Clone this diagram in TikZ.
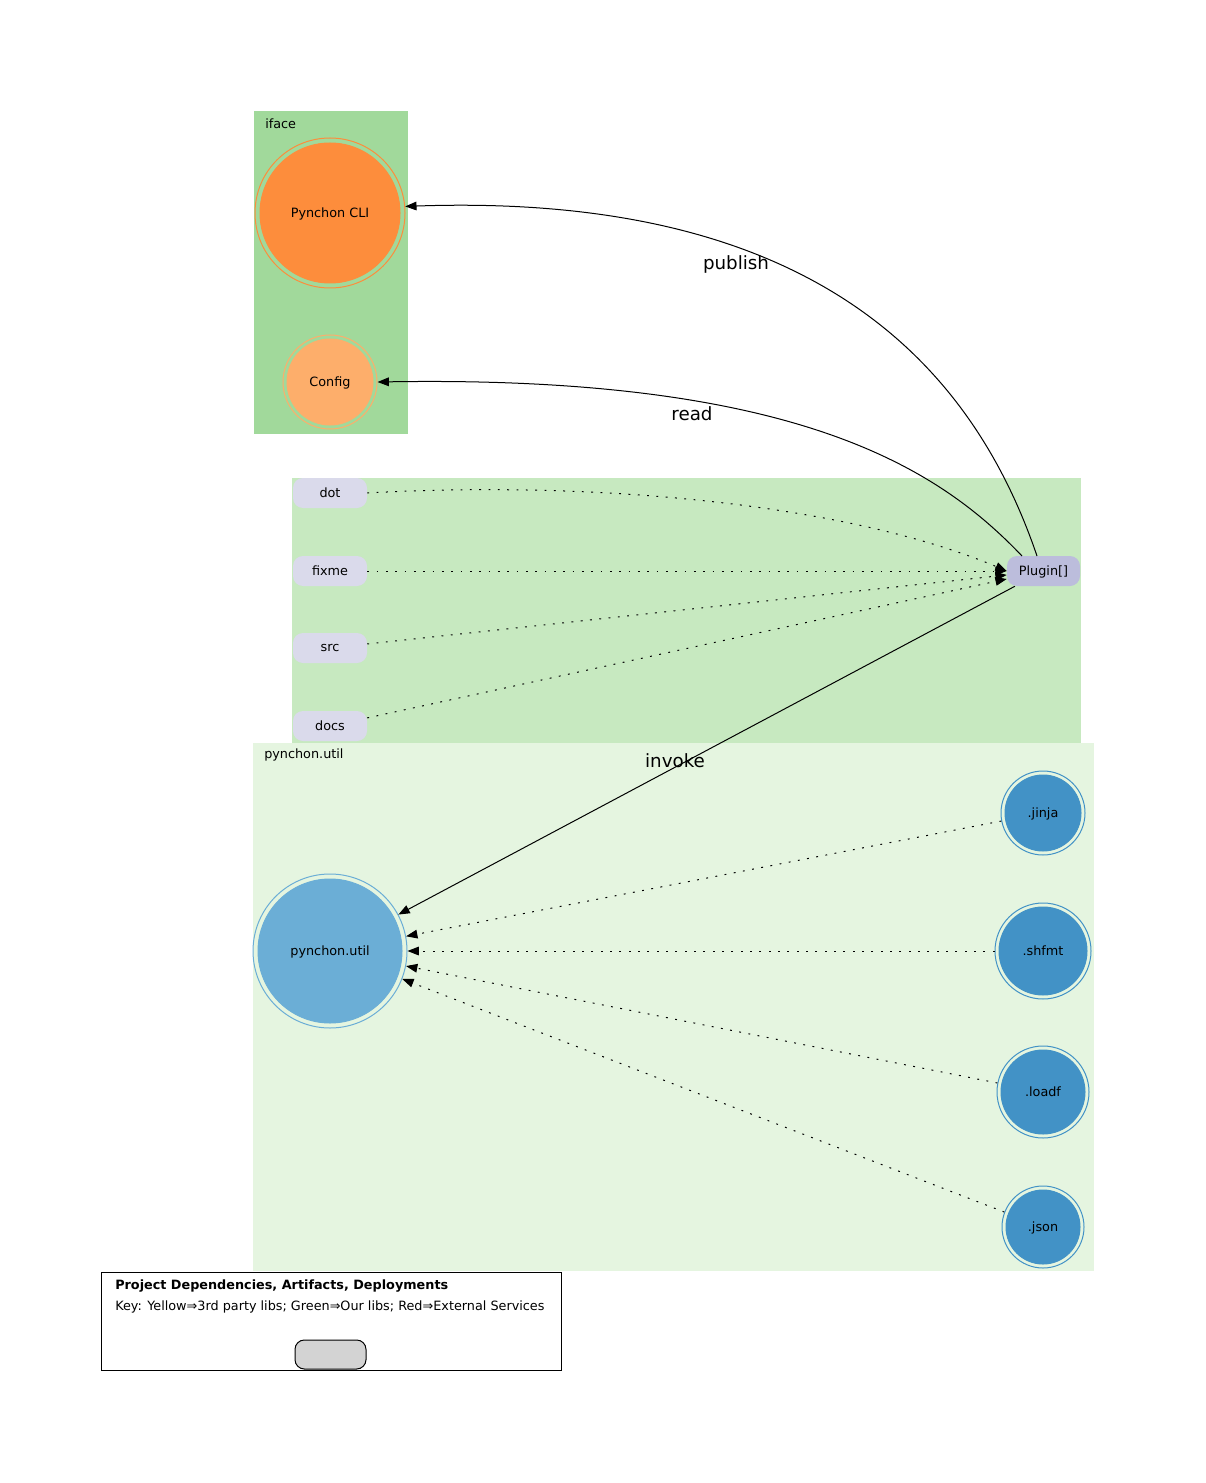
\documentclass[tikz,border=0pt]{standalone}
\usepackage{fontspec}
\setmainfont{DejaVu Sans}
\usetikzlibrary{arrows.meta}
\definecolor{cIface}{HTML}{A1D99B}
\definecolor{cMid}{HTML}{C7E9C0}
\definecolor{cUtil}{HTML}{E5F5E0}
\definecolor{cCli}{HTML}{FD8D3C}
\definecolor{cCfg}{HTML}{FDAE6B}
\definecolor{cSrc}{HTML}{DADAEB}
\definecolor{cPlug}{HTML}{BCBDDC}
\definecolor{cUtilN}{HTML}{6BAED6}
\definecolor{cMod}{HTML}{4292C6}
\definecolor{cGrey}{HTML}{D3D3D3}
\begin{document}
\begin{tikzpicture}[x=0.75pt,y=-0.75pt,
  nfont/.style={font=\fontsize{9.6}{11}\selectfont},
  efont/.style={font=\fontsize{13.7}{16}\selectfont},
  srcbox/.style={rounded corners=7.5pt, minimum width=55.5pt, minimum height=22.5pt, inner sep=0pt, fill=#1, nfont, text depth=0pt},
  ring/.style={circle, draw=#1, line width=0.75pt, inner sep=0pt},
  disc/.style={circle, fill=#1, draw=#1, line width=0.75pt, inner sep=0pt, nfont, text depth=0pt},
  tip/.style={-{Triangle[length=8.5pt,width=6.5pt]}},
  solidedge/.style={tip, line width=0.75pt, black},
  dotedge/.style={tip, line width=0.75pt, black, dash pattern=on 1.4pt off 5.6pt},
  clabel/.style={anchor=west, inner sep=0pt, nfont}
]
\useasboundingbox (0,0) rectangle (1205,1483);
% clusters
\fill[cIface] (254,111) rectangle (408,434);
\fill[cUtil] (253,743) rectangle (1094,1271);
\fill[cMid] (292,478) rectangle (1081,743);
\node[clabel] (liface) at (265,124) {iface};
\node[clabel] (lutil) at (264,755) {pynchon.util};

% iface nodes
\node[ring=cCli, minimum size=112.5pt] (cli) at (330,213) {};
\node[disc=cCli, minimum size=105pt] (cliin) at (cli) {Pynchon CLI};
\node[ring=cCfg, minimum size=70.5pt] (cfg) at (330,382) {};
\node[disc=cCfg, minimum size=64.5pt] (cfgin) at (cfg) {Config};

% source boxes
\node[srcbox=cSrc] (dot) at (330,493) {dot};
\node[srcbox=cSrc] (fixme) at (330,571) {fixme};
\node[srcbox=cSrc] (src) at (330,648) {src};
\node[srcbox=cSrc] (docs) at (330,726) {docs};
\node[srcbox=cPlug, minimum width=54.75pt] (plug) at (1043.5,571) {Plugin[]};

% util nodes
\node[ring=cUtilN, minimum size=115.5pt] (util) at (330,951) {};
\node[disc=cUtilN, minimum size=108pt] (utilin) at (util) {pynchon.util};
\node[ring=cMod, minimum size=63pt] (jinja) at (1043,813) {};
\node[disc=cMod, minimum size=57pt] (jinjain) at (jinja) {.jinja};
\node[ring=cMod, minimum size=72pt] (shfmt) at (1043,951) {};
\node[disc=cMod, minimum size=66pt] (shfmtin) at (shfmt) {.shfmt};
\node[ring=cMod, minimum size=69pt] (loadf) at (1043,1092) {};
\node[disc=cMod, minimum size=63pt] (loadfin) at (loadf) {.loadf};
\node[ring=cMod, minimum size=61.5pt] (json) at (1043,1227) {};
\node[disc=cMod, minimum size=55.5pt] (jsonin) at (json) {.json};

% edges
\coordinate (pubstart) at (1037,556);
\coordinate (readstart) at (1022,556);
\draw[solidedge] (pubstart) .. controls (972,365) and (815,192) .. (cli.5);
\draw[solidedge] (readstart) .. controls (940,470) and (800,375) .. (cfg.east);
\node[efont] (lpub) at (736,264) {publish};
\node[efont] (lread) at (692,414) {read};

\draw[dotedge] (dot.east) .. controls (600,480) and (850,505) .. (plug.west);
\draw[dotedge] (fixme) -- (plug);
\draw[dotedge] (src) -- (plug);
\draw[dotedge] (docs) -- (plug);

\draw[solidedge] (plug) -- (util);
\node[efont] (linv) at (675,761) {invoke};

\draw[dotedge] (jinja) -- (util);
\draw[dotedge] (shfmt) -- (util);
\draw[dotedge] (loadf) -- (util);
\draw[dotedge] (json) -- (util);

% legend
\node[draw=black, line width=0.75pt, minimum width=345pt, minimum height=73.5pt, anchor=north west, inner sep=0pt] (legend) at (101,1272) {};
\node[clabel, font=\fontsize{9.6}{11}\selectfont\bfseries] (ltitle) at (115,1286) {Project Dependencies, Artifacts, Deployments};
\node[clabel] (lkey) at (115,1307) {Key: Yellow⇒3rd party libs; Green⇒Our libs; Red⇒External Services};
\node[draw=black, fill=cGrey, line width=0.75pt, rounded corners=7pt, minimum width=53.25pt, minimum height=21.75pt, inner sep=0pt] (lbox) at (330.5,1354.5) {};
\end{tikzpicture}
\end{document}
